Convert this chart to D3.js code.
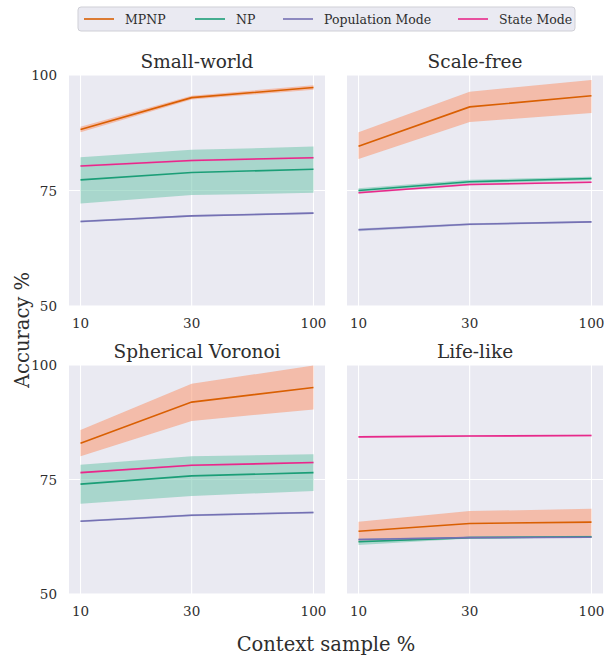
<!DOCTYPE html>
<html>
<head>
<meta charset="utf-8">
<script src="https://cdn.jsdelivr.net/npm/d3@7"></script>
<style>
  body { margin: 0; background: #fff; }
  text { font-family: "DejaVu Serif", "Liberation Serif", "Times New Roman", serif; }
</style>
</head>
<body>
<svg id="chart" width="604" height="658"></svg>
<script>
// context sample % (x values) and tick labels
const contexts = [10, 30, 100];
const yTicks = [50, 75, 100];
const seriesNames = ["MPNP", "NP", "Population Mode", "State Mode"];
const colors = ["#d95f02", "#1b9e77", "#7570b3", "#e7298a"];
const bandColors = ["#fc8d62", "#66c2a5", "#8da0cb", "#e78ac3"];
const panelTitles = ["Small-world", "Scale-free", "Spherical Voronoi", "Life-like"];

// mean accuracy per series (rows follow seriesNames)
const smallWorldMean = [[88.2, 95.1, 97.3], [77.3, 78.9, 79.6], [68.3, 69.5, 70.1], [80.3, 81.5, 82.1]];
const smallWorldLow  = [[87.6, 94.7, 96.8], [72.2, 74.0, 74.5], [68.1, 69.3, 69.9], [80.1, 81.3, 81.9]];
const smallWorldHigh = [[88.8, 95.5, 97.8], [82.2, 83.8, 84.5], [68.5, 69.7, 70.3], [80.5, 81.7, 82.3]];

const scaleFreeMean = [[84.6, 93.1, 95.5], [75.0, 76.9, 77.6], [66.5, 67.7, 68.2], [74.5, 76.3, 76.8]];
const scaleFreeLow  = [[81.8, 89.8, 91.8], [74.6, 76.5, 77.2], [66.2, 67.5, 68.0], [74.3, 76.1, 76.6]];
const scaleFreeHigh = [[87.6, 96.4, 98.9], [75.5, 77.3, 78.0], [66.8, 67.9, 68.4], [74.7, 76.5, 77.0]];

const voronoiMean = [[82.9, 91.9, 95.1], [74.0, 75.8, 76.5], [65.9, 67.2, 67.8], [76.5, 78.1, 78.7]];
const voronoiLow  = [[80.1, 87.8, 90.3], [69.7, 71.4, 72.5], [65.7, 67.0, 67.6], [76.3, 77.9, 78.5]];
const voronoiHigh = [[85.8, 95.9, 99.9], [78.2, 80.1, 80.5], [66.1, 67.4, 68.0], [76.7, 78.3, 78.9]];

const lifeLikeMean = [[63.7, 65.4, 65.7], [61.4, 62.3, 62.5], [61.9, 62.3, 62.4], [84.3, 84.5, 84.6]];
const lifeLikeLow  = [[61.3, 62.2, 62.2], [60.7, 62.1, 62.3], [61.7, 62.1, 62.2], [84.1, 84.3, 84.4]];
const lifeLikeHigh = [[65.8, 68.1, 68.6], [62.0, 62.5, 62.7], [62.1, 62.5, 62.6], [84.5, 84.7, 84.8]];

const panelData = [
  [smallWorldMean, smallWorldLow, smallWorldHigh],
  [scaleFreeMean, scaleFreeLow, scaleFreeHigh],
  [voronoiMean, voronoiLow, voronoiHigh],
  [lifeLikeMean, lifeLikeLow, lifeLikeHigh]
];

const svg = d3.select("#chart");
const bg = "#eaeaf2";
const ink = "#2e2e2e";

// plot area boxes: left, top, width, height
const boxes = [
  {x: 69, y: 75, w: 256, h: 231},
  {x: 347, y: 75, w: 256, h: 231},
  {x: 69, y: 365, w: 256, h: 229},
  {x: 347, y: 365, w: 256, h: 229}
];

boxes.forEach(function(b, i) {
  const g = svg.append("g").attr("transform", "translate(" + b.x + "," + b.y + ")");
  const pad = b.w * 0.045;
  const x = d3.scaleLog().domain([10, 100]).range([pad, b.w - pad]);
  const y = d3.scaleLinear().domain([50, 100]).range([b.h, 0]);

  g.append("rect").attr("width", b.w).attr("height", b.h).attr("fill", bg);

  // grid
  g.selectAll(".gx").data(contexts).enter().append("line")
    .attr("x1", d => x(d)).attr("x2", d => x(d))
    .attr("y1", 0).attr("y2", b.h)
    .attr("stroke", "#fff").attr("stroke-width", 1.1);
  g.selectAll(".gy").data(yTicks).enter().append("line")
    .attr("x1", 0).attr("x2", b.w)
    .attr("y1", d => y(d)).attr("y2", d => y(d))
    .attr("stroke", "#fff").attr("stroke-width", 1.1);

  const [mean, low, high] = panelData[i];

  const area = d3.area()
    .x((d, k) => x(contexts[k]))
    .y0(d => y(d[0]))
    .y1(d => y(d[1]));
  const line = d3.line()
    .x((d, k) => x(contexts[k]))
    .y(d => y(d));

  // bands under all lines
  seriesNames.forEach(function(s, j) {
    const pts = low[j].map((v, k) => [v, high[j][k]]);
    g.append("path").datum(pts)
      .attr("d", area)
      .attr("fill", bandColors[j])
      .attr("fill-opacity", 0.5)
      .attr("stroke", "none");
  });
  seriesNames.forEach(function(s, j) {
    g.append("path").datum(mean[j])
      .attr("d", line)
      .attr("fill", "none")
      .attr("stroke", colors[j])
      .attr("stroke-width", 1.6);
  });

  // x tick labels
  g.selectAll(".xt").data(contexts).enter().append("text")
    .attr("x", d => x(d)).attr("y", b.h + 22)
    .attr("text-anchor", "middle")
    .attr("font-size", 13.5)
    .attr("fill", ink)
    .text(d => d);

  // y tick labels, left column only
  if (i % 2 === 0) {
    g.selectAll(".yt").data(yTicks).enter().append("text")
      .attr("x", -12).attr("y", d => y(d) + 5)
      .attr("text-anchor", "end")
      .attr("font-size", 13.5)
      .attr("fill", ink)
      .text(d => d);
  }

  g.append("text")
    .attr("x", b.w / 2).attr("y", -7)
    .attr("text-anchor", "middle")
    .attr("font-size", 18.5)
    .attr("fill", ink)
    .text(panelTitles[i]);
});

// axis labels
svg.append("text")
  .attr("x", 326).attr("y", 651)
  .attr("text-anchor", "middle")
  .attr("font-size", 19.5)
  .attr("fill", ink)
  .text("Context sample %");
svg.append("text")
  .attr("transform", "translate(29,330) rotate(-90)")
  .attr("text-anchor", "middle")
  .attr("font-size", 19.5)
  .attr("fill", ink)
  .text("Accuracy %");

// legend
const legend = svg.append("g").attr("transform", "translate(78,7)");
legend.append("rect")
  .attr("width", 497).attr("height", 24).attr("rx", 3)
  .attr("fill", bg).attr("stroke", "#cfcfd6").attr("stroke-width", 1);
const legendX = [6, 117, 205, 380];
seriesNames.forEach(function(s, j) {
  const lg = legend.append("g").attr("transform", "translate(" + legendX[j] + ",12)");
  lg.append("line").attr("x1", 0).attr("x2", 30).attr("y1", 0).attr("y2", 0)
    .attr("stroke", colors[j]).attr("stroke-width", 1.6);
  lg.append("text").attr("x", 41).attr("y", 4.5)
    .attr("font-size", 12.5)
    .attr("fill", ink)
    .text(s);
});
</script>
</body>
</html>
